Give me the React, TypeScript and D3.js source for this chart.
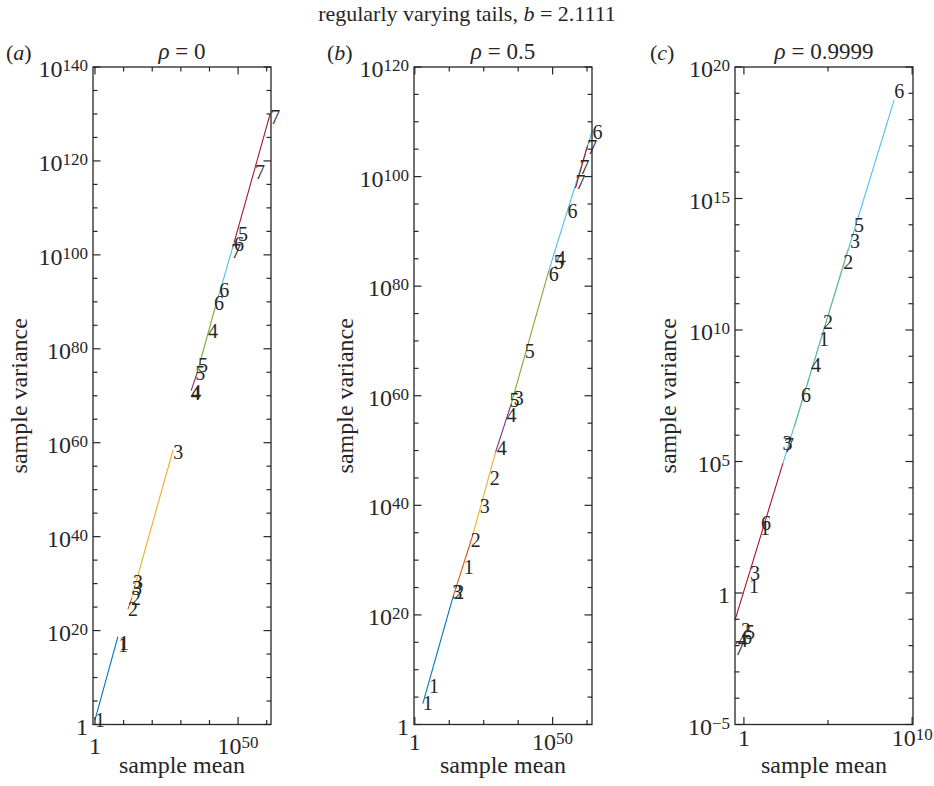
import React from "react";
import * as d3 from "d3";

// MATLAB default colour order, one per numbered series
const seriesColors = ["#0072BD", "#D95319", "#EDB120", "#7E2F8E", "#77AC30", "#4DBEEE", "#A2142F"];

// labelled points: [label, log10 sample mean, log10 sample variance]
const pointsA: [string, number, number][] = [
  ["7", 61.2, 129.4], ["7", 55.9, 117.7], ["5", 50.0, 104.5], ["6", 48.6, 102.3],
  ["7", 47.6, 100.9], ["6", 43.4, 92.6], ["6", 41.6, 89.8], ["4", 39.5, 83.8],
  ["5", 36.0, 76.6], ["5", 35.0, 74.9], ["4", 33.6, 70.9], ["4", 33.4, 70.6],
  ["3", 27.3, 58.1], ["3", 13.3, 30.4], ["3", 12.9, 29.1], ["2", 12.6, 27.0],
  ["2", 11.5, 24.5], ["1", 8.4, 17.4], ["1", 8.0, 17.0], ["1", 0.0, 1.0],
];
const pointsB: [string, number, number][] = [
  ["6", 64.5, 108.1], ["7", 62.6, 105.4], ["7", 59.8, 101.7], ["7", 58.3, 99.1],
  ["6", 55.4, 93.7], ["4", 51.1, 85.1], ["5", 50.4, 84.4], ["6", 48.6, 82.3],
  ["5", 39.9, 68.1], ["5", 34.4, 59.2], ["3", 35.9, 59.5], ["4", 33.3, 56.4],
  ["4", 29.7, 50.4], ["2", 27.2, 44.9], ["3", 23.6, 39.8], ["2", 20.3, 33.6],
  ["1", 17.8, 28.8], ["3", 13.6, 24.1], ["2", 14.3, 24.1], ["1", 5.1, 7.1],
  ["1", 2.9, 4.0],
];
const pointsC: [string, number, number][] = [
  ["6", 8.93, 19.1], ["5", 6.55, 14.0], ["3", 6.3, 13.4], ["2", 5.9, 12.6],
  ["2", 4.7, 10.3], ["1", 4.46, 9.66], ["4", 3.99, 8.67], ["6", 3.39, 7.53],
  ["3", 2.3, 5.7], ["7", 2.38, 5.63], ["6", 1.01, 2.66], ["1", 0.95, 2.47],
  ["3", 0.36, 0.76], ["1", 0.3, 0.27], ["2", -0.18, -1.41], ["5", 0.06, -1.48],
  ["4", -0.36, -1.79], ["6", -0.12, -1.67], ["7", -0.54, -2.09],
];

// fitted segments: [series, log mean start, log var start, log mean end, log var end]
const segmentsA: [number, number, number, number, number][] = [
  [1, 0.0, 1.0, 8.0, 18.7], [2, 11.5, 24.5, 12.9, 27.0], [3, 12.9, 27.2, 27.3, 58.5],
  [4, 33.6, 71.1, 35.7, 74.9], [5, 36.0, 75.5, 42.0, 88.9], [6, 42.3, 89.4, 48.6, 102.6],
  [7, 48.6, 102.6, 61.2, 130.0],
];
const segmentsB: [number, number, number, number, number][] = [
  [1, 2.9, 3.8, 13.8, 23.2], [2, 13.8, 23.2, 21.0, 34.5], [3, 21.0, 34.5, 29.3, 49.7],
  [4, 29.3, 49.7, 34.8, 58.2], [5, 34.8, 58.2, 48.6, 82.8], [6, 48.6, 82.8, 64.5, 108.5],
  [7, 58.3, 97.9, 62.7, 105.7],
];
const segmentsC: [number, number, number, number, number][] = [
  [7, -0.53, -1.03, 2.32, 4.94], [6, 2.32, 4.94, 8.93, 18.75], [5, 3.0, 6.3, 6.2, 13.1],
];

// tick exponents
const xLabelsA = [0, 50];
const xTicksA = [0, 10, 20, 30, 40, 50, 60];
const yLabelsA = [0, 20, 40, 60, 80, 100, 120, 140];
const xLabelsB = [0, 50];
const xTicksB = [0, 12.5, 25, 37.5, 50, 62.5];
const yLabelsB = [0, 20, 40, 60, 80, 100, 120];
const xLabelsC = [0, 10];
const xTicksC = [0, 5, 10];
const yLabelsC = [-5, 0, 5, 10, 15, 20];

const panels = [
  { tag: "a", rho: "0", left: 93, xExp: [-0.7, 61.5], yExp: [0, 140], yMinorStep: 5,
    xLabels: xLabelsA, xTicks: xTicksA, yLabels: yLabelsA, points: pointsA, segments: segmentsA,
    xLabGap: 29, yTitleX: 19, tagX: 6 },
  { tag: "b", rho: "0.5", left: 414, xExp: [-0.3, 64.3], yExp: [0, 120], yMinorStep: 5,
    xLabels: xLabelsB, xTicks: xTicksB, yLabels: yLabelsB, points: pointsB, segments: segmentsB,
    xLabGap: 25, yTitleX: 345, tagX: 327 },
  { tag: "c", rho: "0.9999", left: 735, xExp: [-0.53, 10.05], yExp: [-5, 20], yMinorStep: 1,
    xLabels: xLabelsC, xTicks: xTicksC, yLabels: yLabelsC, points: pointsC, segments: segmentsC,
    xLabGap: 21, yTitleX: 668, tagX: 650 },
];

const ink = "#262626";
const font = "'Liberation Serif', 'Times New Roman', serif";
const TOP = 67;
const BOTTOM = 724.5;
const PW = 178;

function Pow({ exp, x, y, anchor }: { exp: number; x: number; y: number; anchor: string }) {
  if (exp === 0) {
    return <text x={x} y={y} textAnchor={anchor} fontSize={24}>1</text>;
  }
  const e = exp < 0 ? "\u2212" + -exp : String(exp);
  return (
    <text x={x} y={y} textAnchor={anchor} fontSize={24}>
      <tspan>10</tspan>
      <tspan dy={-6} fontSize={17}>{e}</tspan>
    </text>
  );
}

function Panel({ p }: { p: (typeof panels)[number] }) {
  const right = p.left + PW;
  const x = d3.scaleLog().domain([10 ** p.xExp[0], 10 ** p.xExp[1]]).range([p.left, right]);
  const y = d3.scaleLog().domain([10 ** p.yExp[0], 10 ** p.yExp[1]]).range([BOTTOM, TOP]);
  const yMinor = d3.range(p.yExp[0], p.yExp[1] + 0.001, p.yMinorStep);
  const cx = (p.left + right) / 2;

  return (
    <g>
      {p.segments.map((s, i) => (
        <line key={"s" + i} x1={x(10 ** s[1])} y1={y(10 ** s[2])} x2={x(10 ** s[3])} y2={y(10 ** s[4])}
          stroke={seriesColors[s[0] - 1]} strokeWidth={1.1} opacity={p.tag === "c" && s[0] === 5 ? 0.5 : 1} />
      ))}
      {p.points.map((q, i) => (
        <text key={"p" + i} x={x(10 ** q[1])} y={y(10 ** q[2])} dy="0.35em" fontSize={20} fill={ink}>{q[0]}</text>
      ))}
      <rect x={p.left} y={TOP} width={PW} height={BOTTOM - TOP} fill="none" stroke={ink} strokeWidth={1.3} />
      {yMinor.map((e) => {
        const major = p.yLabels.includes(e);
        const len = major ? 7.5 : 4.5;
        const yy = y(10 ** e);
        return (
          <g key={"y" + e} stroke={ink} strokeWidth={1.2}>
            <line x1={p.left} x2={p.left + len} y1={yy} y2={yy} />
            <line x1={right} x2={right - len} y1={yy} y2={yy} />
          </g>
        );
      })}
      {p.xTicks.map((e) => {
        const major = p.xLabels.includes(e);
        const len = major ? 7.5 : 4.5;
        const xx = x(10 ** e);
        return (
          <g key={"x" + e} stroke={ink} strokeWidth={1.2}>
            <line x1={xx} x2={xx} y1={BOTTOM} y2={BOTTOM - len} />
            <line x1={xx} x2={xx} y1={TOP} y2={TOP + len} />
          </g>
        );
      })}
      {p.yLabels.map((e) => (
        <Pow key={"yl" + e} exp={e} x={p.left - 5} y={y(10 ** e) + 10} anchor="end" />
      ))}
      {p.xLabels.map((e) => (
        <Pow key={"xl" + e} exp={e} x={x(10 ** e)} y={BOTTOM + p.xLabGap} anchor="middle" />
      ))}
      <text x={cx} y={773} textAnchor="middle" fontSize={24}>sample mean</text>
      <text transform={`translate(${p.yTitleX},${(TOP + BOTTOM) / 2}) rotate(-90)`} dy="0.35em"
        textAnchor="middle" fontSize={24}>sample variance</text>
      <text x={cx} y={59} textAnchor="middle" fontSize={23}>
        <tspan fontStyle="italic">ρ</tspan> = {p.rho}
      </text>
      <text x={p.tagX} y={60} fontSize={22}>
        (<tspan fontStyle="italic">{p.tag}</tspan>)
      </text>
    </g>
  );
}

export default function App() {
  return (
    <svg width={934} height={786} style={{ position: "absolute", left: 0, top: 0, background: "#fff" }}
      fontFamily={font} fill={ink}>
      <rect width={934} height={786} fill="#fff" />
      <text x={467} y={21} textAnchor="middle" fontSize={22}>
        regularly varying tails, <tspan fontStyle="italic">b</tspan> = 2.1111
      </text>
      {panels.map((p) => (
        <Panel key={p.tag} p={p} />
      ))}
    </svg>
  );
}
